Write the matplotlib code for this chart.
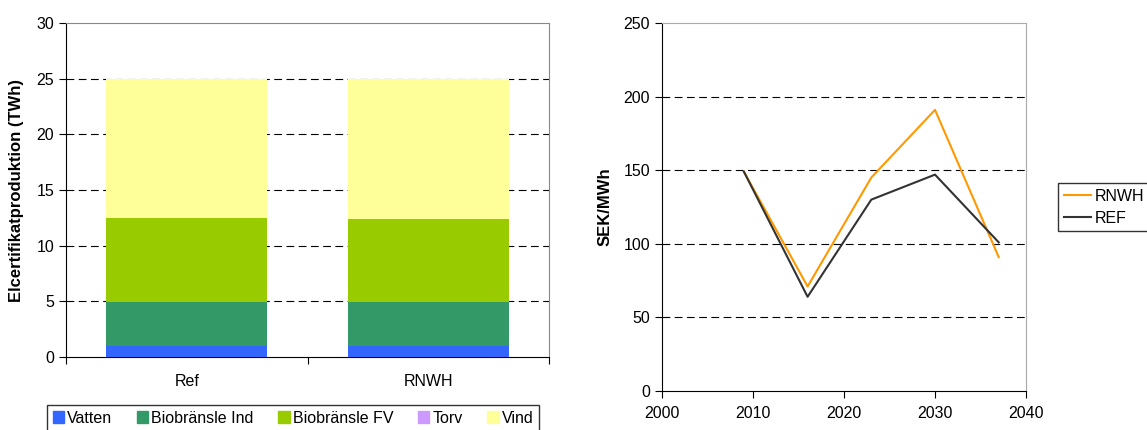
import matplotlib.pyplot as plt
import matplotlib.patches as mpatches
import numpy as np

plt.rcParams["font.family"] = ["Liberation Sans", "DejaVu Sans"]

# left chart: certificate production per scenario (TWh)
scenarios = ["Ref", "RNWH"]
vatten = [1.0, 1.0]
bio_ind = [3.9, 3.9]
bio_fv = [7.6, 7.5]
torv = [0.0, 0.0]
vind = [12.5, 12.6]

# right chart: certificate price (SEK/MWh)
years = [2009, 2016, 2023, 2030, 2037]
rnwh = [149, 71, 145, 191, 91]
ref = [149, 64, 130, 147, 101]

COLORS = {
    "Vatten": "#3366ff",
    "Biobränsle Ind": "#339966",
    "Biobränsle FV": "#99cc00",
    "Torv": "#cc99ff",
    "Vind": "#ffff99",
}

fig = plt.figure(figsize=(11.47, 4.30), dpi=100)
W, H = 1147, 430
ax1 = fig.add_axes([66 / W, 1 - 357 / H, 483 / W, 334 / H])
ax2 = fig.add_axes([662 / W, 1 - 391 / H, 364 / W, 368 / H])

grid_kw = dict(color="#000000", lw=0.8, dashes=(7, 4))

# stacked bars
x = np.arange(len(scenarios))
bottom = np.zeros(len(scenarios))
series = [("Vatten", vatten), ("Biobränsle Ind", bio_ind), ("Biobränsle FV", bio_fv),
          ("Torv", torv), ("Vind", vind)]
for name, vals in series:
    ax1.bar(x, vals, bottom=bottom, width=0.667, color=COLORS[name], zorder=3)
    bottom += np.array(vals)

ax1.set_xlim(-0.5, 1.5)
ax1.set_ylim(0, 30)
ax1.set_yticks(range(0, 31, 5))
ax1.set_xticks([-0.5, 0.5, 1.5])
ax1.set_xticklabels([])
ax1.set_xticks(x, minor=True)
ax1.set_xticklabels(scenarios, minor=True)
ax1.tick_params(axis="x", which="minor", length=0, pad=12, labelsize=11.5)
ax1.tick_params(axis="x", which="major", length=5, direction="out")
ax1.tick_params(axis="y", length=5, direction="out", labelsize=11.5)
for v in range(5, 30, 5):
    ax1.axhline(v, zorder=1, **grid_kw)
ax1.set_ylabel("Elcertifikatproduktion (TWh)", fontsize=12, fontweight="bold", labelpad=9)
for s in ["top", "right"]:
    ax1.spines[s].set_color("#888888")

legend_handles = [mpatches.Patch(color=COLORS[n], label=n) for n, _ in series]
fig.legend(handles=legend_handles, loc="upper left", bbox_to_anchor=(47 / W, 1 - 405 / H),
           borderaxespad=0, ncol=5, fontsize=11.5, frameon=True, fancybox=False,
           edgecolor="#000000", handlelength=0.7, handleheight=0.7, handletextpad=0.2,
           columnspacing=1.55, borderpad=0.35)

# price lines
ax2.plot(years, rnwh, color="#ff9900", lw=1.5, label="RNWH", zorder=3)
ax2.plot(years, ref, color="#333333", lw=1.5, label="REF", zorder=3)
ax2.set_xlim(2000, 2040)
ax2.set_ylim(0, 250)
ax2.set_xticks(range(2000, 2041, 10))
ax2.set_yticks(range(0, 251, 50))
ax2.tick_params(length=5, direction="out", labelsize=11.5)
ax2.tick_params(axis="x", pad=6)
for v in range(50, 250, 50):
    ax2.axhline(v, zorder=1, **grid_kw)
ax2.set_ylabel("SEK/MWh", fontsize=12, fontweight="bold", labelpad=8)
for s in ["top", "right"]:
    ax2.spines[s].set_color("#aaaaaa")
ax2.legend(loc="upper left", bbox_to_anchor=(1058 / W, 1 - 183 / H), bbox_transform=fig.transFigure,
           borderaxespad=0, fontsize=11.5, frameon=True, fancybox=False, edgecolor="#000000",
           handlelength=1.7, handletextpad=0.25, borderpad=0.35, labelspacing=0.45)

fig.savefig("out.png", dpi=100)
